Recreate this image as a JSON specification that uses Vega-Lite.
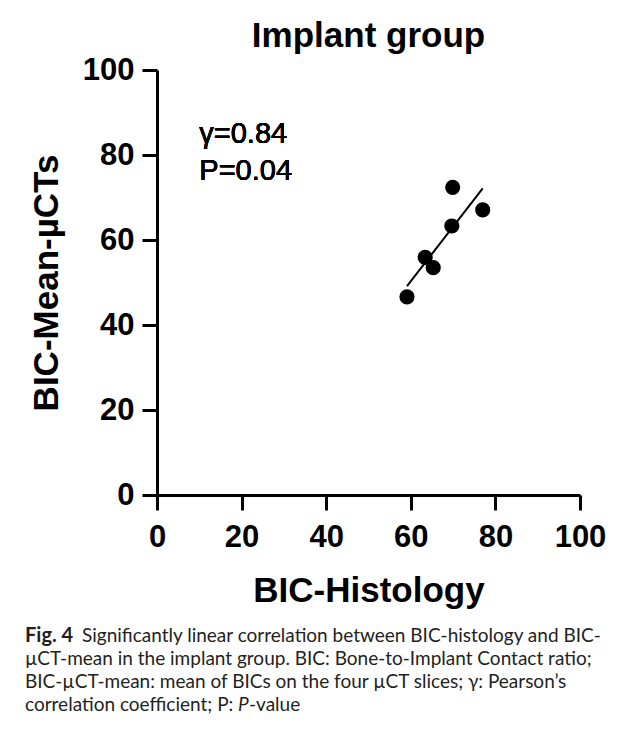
{
  "$schema": "https://vega.github.io/schema/vega-lite/v6.json",
  "background": "white",
  "padding": {"left": 25, "top": 19, "right": 0, "bottom": 0},
  "bounds": "flush",
  "spacing": 135,
  "config": {
    "view": {"stroke": null},
    "axis": {
      "domainColor": "black", "domainWidth": 3, "tickColor": "black", "tickWidth": 3, "tickSize": 15,
      "labelFont": "Liberation Sans", "labelFontSize": 31, "labelFontWeight": "bold", "labelColor": "black",
      "titleFont": "Liberation Sans", "titleFontSize": 35, "titleFontWeight": "bold", "titleColor": "black",
      "grid": false, "labelFlush": false
    }
  },
  "vconcat": [
    {
      "width": 423,
      "height": 425,
      "title": {"text": "Implant group", "font": "Liberation Sans", "fontSize": 35, "fontWeight": "bold", "color": "black", "anchor": "middle", "baseline": "alphabetic", "offset": -28},
      "data": {"values": [
        {"bic_hist": 59.1, "bic_mct": 46.6},
        {"bic_hist": 63.4, "bic_mct": 55.9},
        {"bic_hist": 65.3, "bic_mct": 53.5},
        {"bic_hist": 69.7, "bic_mct": 63.3},
        {"bic_hist": 69.9, "bic_mct": 72.4},
        {"bic_hist": 77.0, "bic_mct": 67.1}
      ]},
      "layer": [
        {
          "mark": {"type": "circle", "size": 230, "color": "black", "opacity": 1},
          "encoding": {
            "x": {"field": "bic_hist", "type": "quantitative", "title": "BIC-Histology",
                  "scale": {"domain": [0, 100], "nice": false},
                  "axis": {"values": [0, 20, 40, 60, 80, 100], "labelPadding": 12, "titlePadding": 21}},
            "y": {"field": "bic_mct", "type": "quantitative", "title": "BIC-Mean-µCTs",
                  "scale": {"domain": [0, 100], "nice": false},
                  "axis": {"values": [0, 20, 40, 60, 80, 100], "labelPadding": 8, "titlePadding": 18}}
          }
        },
        {
          "transform": [{"regression": "bic_mct", "on": "bic_hist"}],
          "mark": {"type": "line", "color": "black", "strokeWidth": 2},
          "encoding": {
            "x": {"field": "bic_hist", "type": "quantitative"},
            "y": {"field": "bic_mct", "type": "quantitative"}
          }
        },
        {
          "mark": {"type": "text", "font": "Liberation Sans", "fontSize": 29, "color": "black", "align": "left", "baseline": "alphabetic", "lineBreak": "\n", "lineHeight": 37},
          "encoding": {
            "x": {"datum": 10},
            "y": {"datum": 82.8},
            "text": {"value": "γ=0.84\nP=0.04"}
          }
        }
      ]
    },
    {
      "width": 423,
      "height": {"step": 23},
      "layer": [
        {
          "data": {"values": [{"line": 1, "seg": "Fig. 4"}]},
          "mark": {"type": "text", "font": "Lato", "fontSize": 20, "fontWeight": "bold", "align": "left", "baseline": "alphabetic", "color": "#231f20"},
          "encoding": {
            "x": {"value": -132},
            "y": {"field": "line", "type": "ordinal", "axis": null, "scale": {"domain": [1, 2, 3, 4]}},
            "text": {"field": "seg"}
          }
        },
        {
          "data": {"values": [{"line": 1, "seg": "Significantly linear correlation between BIC-histology and BIC-"}]},
          "mark": {"type": "text", "font": "Lato", "fontSize": 19, "align": "left", "baseline": "alphabetic", "color": "#231f20"},
          "encoding": {
            "x": {"value": -75},
            "y": {"field": "line", "type": "ordinal", "axis": null, "scale": {"domain": [1, 2, 3, 4]}},
            "text": {"field": "seg"}
          }
        },
        {
          "data": {"values": [
            {"line": 2, "seg": "µCT-mean in the implant group. BIC: Bone-to-Implant Contact ratio;"},
            {"line": 3, "seg": "BIC-µCT-mean: mean of BICs on the four µCT slices; γ: Pearson’s"},
            {"line": 4, "seg": "correlation coefficient; P: "}
          ]},
          "mark": {"type": "text", "font": "Lato", "fontSize": 19, "align": "left", "baseline": "alphabetic", "color": "#231f20"},
          "encoding": {
            "x": {"value": -132},
            "y": {"field": "line", "type": "ordinal", "axis": null, "scale": {"domain": [1, 2, 3, 4]}},
            "text": {"field": "seg"}
          }
        },
        {
          "data": {"values": [{"line": 4, "seg": "P"}]},
          "mark": {"type": "text", "font": "Lato", "fontSize": 19, "fontStyle": "italic", "align": "left", "baseline": "alphabetic", "color": "#231f20"},
          "encoding": {
            "x": {"value": 81},
            "y": {"field": "line", "type": "ordinal", "axis": null, "scale": {"domain": [1, 2, 3, 4]}},
            "text": {"field": "seg"}
          }
        },
        {
          "data": {"values": [{"line": 4, "seg": "-value"}]},
          "mark": {"type": "text", "font": "Lato", "fontSize": 19, "align": "left", "baseline": "alphabetic", "color": "#231f20"},
          "encoding": {
            "x": {"value": 92},
            "y": {"field": "line", "type": "ordinal", "axis": null, "scale": {"domain": [1, 2, 3, 4]}},
            "text": {"field": "seg"}
          }
        }
      ]
    }
  ]
}
